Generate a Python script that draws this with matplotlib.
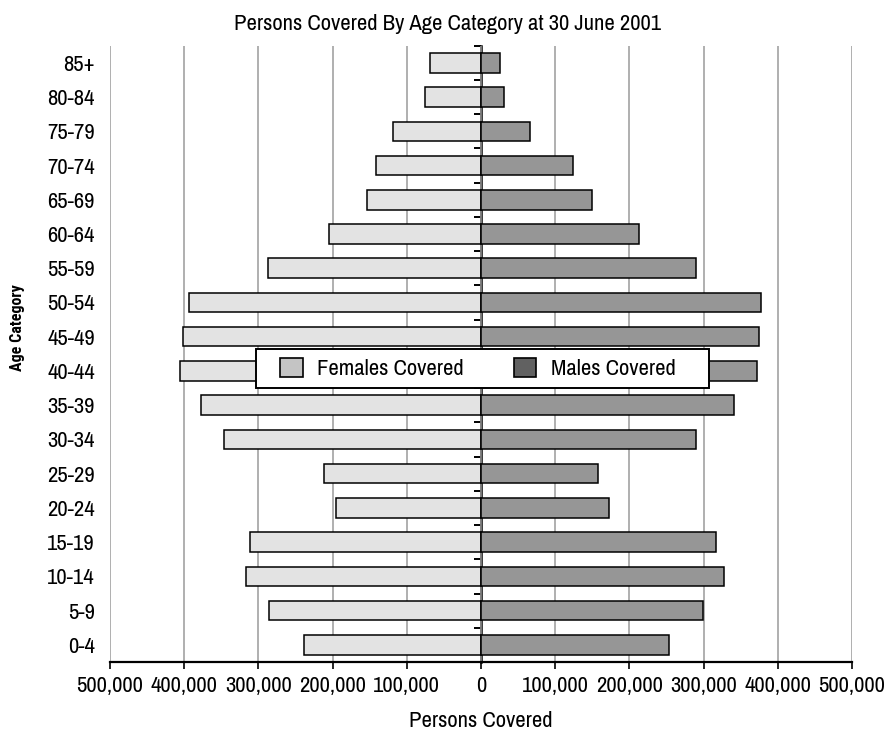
import numpy as np
import matplotlib
matplotlib.use('Agg')
import matplotlib.pyplot as plt
from matplotlib.patches import Patch, Rectangle
from matplotlib.ticker import FuncFormatter

# ── Data (bottom to top) ─────────────────────────────────────────
AGE_GROUPS = ["0-4", "5-9", "10-14", "15-19", "20-24", "25-29", "30-34",
              "35-39", "40-44", "45-49", "50-54", "55-59", "60-64", "65-69",
              "70-74", "75-79", "80-84", "85+"]
FEMALES = [238000, 286000, 317000, 311000, 196000, 211000, 347000, 378000,
           405000, 402000, 393000, 287000, 205000, 154000, 142000, 118000,
           76000, 69000]
MALES = [254000, 299000, 327000, 317000, 173000, 158000, 290000, 341500,
         372000, 375000, 377000, 290000, 212500, 149000, 124500, 66500,
         31000, 25000]
X_TICKS = [-500000, -400000, -300000, -200000, -100000, 0,
           100000, 200000, 300000, 400000, 500000]

FONT = ['Liberation Sans Narrow', 'Archivo Narrow', 'Roboto Condensed', 'DejaVu Sans']
plt.rcParams['font.family'] = FONT
FS = 16.3

FEMALE_BAR = '#e3e3e3'
MALE_BAR = '#969696'
FEMALE_KEY = '#c4c4c4'
MALE_KEY = '#616161'

fig = plt.figure(figsize=(8.87, 7.33), dpi=100, facecolor='white')
ax = fig.add_axes([110 / 887, 1 - 662 / 733, 742 / 887, (662 - 45.7) / 733])

y = np.arange(len(AGE_GROUPS))
ax.barh(y, -np.array(FEMALES), height=0.57, color=FEMALE_BAR,
        edgecolor='black', linewidth=1.1, zorder=2)
ax.barh(y, MALES, height=0.57, color=MALE_BAR,
        edgecolor='black', linewidth=1.1, zorder=2)

ax.set_xlim(-500000, 500000)
ax.set_ylim(-0.5, len(AGE_GROUPS) - 0.5)

# grid + spines
ax.set_xticks(X_TICKS)
ax.xaxis.set_major_formatter(FuncFormatter(lambda v, p: f"{abs(int(v)):,}"))
ax.grid(axis='x', color='#9a9a9a', linewidth=1.1, zorder=0)
ax.set_axisbelow(True)
for side in ['top', 'left', 'right']:
    ax.spines[side].set_visible(False)
ax.spines['bottom'].set_linewidth(1.6)
ax.tick_params(axis='x', length=5, width=1.2, pad=5, labelsize=FS)

ax.set_yticks(y)
ax.set_yticklabels(AGE_GROUPS)
ax.tick_params(axis='y', length=0, pad=11, labelsize=FS)

# центральная ось с засечками между категориями
sec = ax.secondary_yaxis(0.5)
sec.set_alignment('left')
sec.set_yticks(np.arange(-0.5, len(AGE_GROUPS), 1.0))
sec.set_yticklabels([])
sec.tick_params(direction='out', length=5, width=1.4)
sec.spines['left'].set_linewidth(1.8)

ax.set_xlabel('Persons Covered', fontsize=FS, labelpad=11)
fig.text(0.505, 0.967, 'Persons Covered By Age Category at 30 June 2001',
         ha='center', va='center', fontsize=FS)
fig.text(18 / 887, 1 - 328 / 733, 'Age Category', rotation=90,
         ha='center', va='center', fontsize=11.5, fontweight='bold',
         family=['Roboto Condensed', 'Archivo Narrow', 'DejaVu Sans'])

# legend box
box_x0 = (256 - 110) / 742
box_x1 = (709 - 110) / 742
box_y0 = (662 - 388) / 616.3
box_y1 = (662 - 349) / 616.3
ax.add_patch(Rectangle((box_x0, box_y0), box_x1 - box_x0, box_y1 - box_y0,
                       transform=ax.transAxes, facecolor='white',
                       edgecolor='black', linewidth=1.4, zorder=5))
handles = [Patch(facecolor=FEMALE_KEY, edgecolor='black', linewidth=1.2,
                 label='Females Covered'),
           Patch(facecolor=MALE_KEY, edgecolor='black', linewidth=1.2,
                 label='Males Covered')]
leg = ax.legend(handles=handles, loc='center', ncol=2, frameon=False,
                bbox_to_anchor=((478 - 110) / 742, (662 - 368.5) / 616.3),
                fontsize=FS, handlelength=1.0, handleheight=0.95,
                handletextpad=0.65, columnspacing=2.2, borderpad=0.2)
leg.set_zorder(6)

fig.savefig('out.png', dpi=100, facecolor='white')
